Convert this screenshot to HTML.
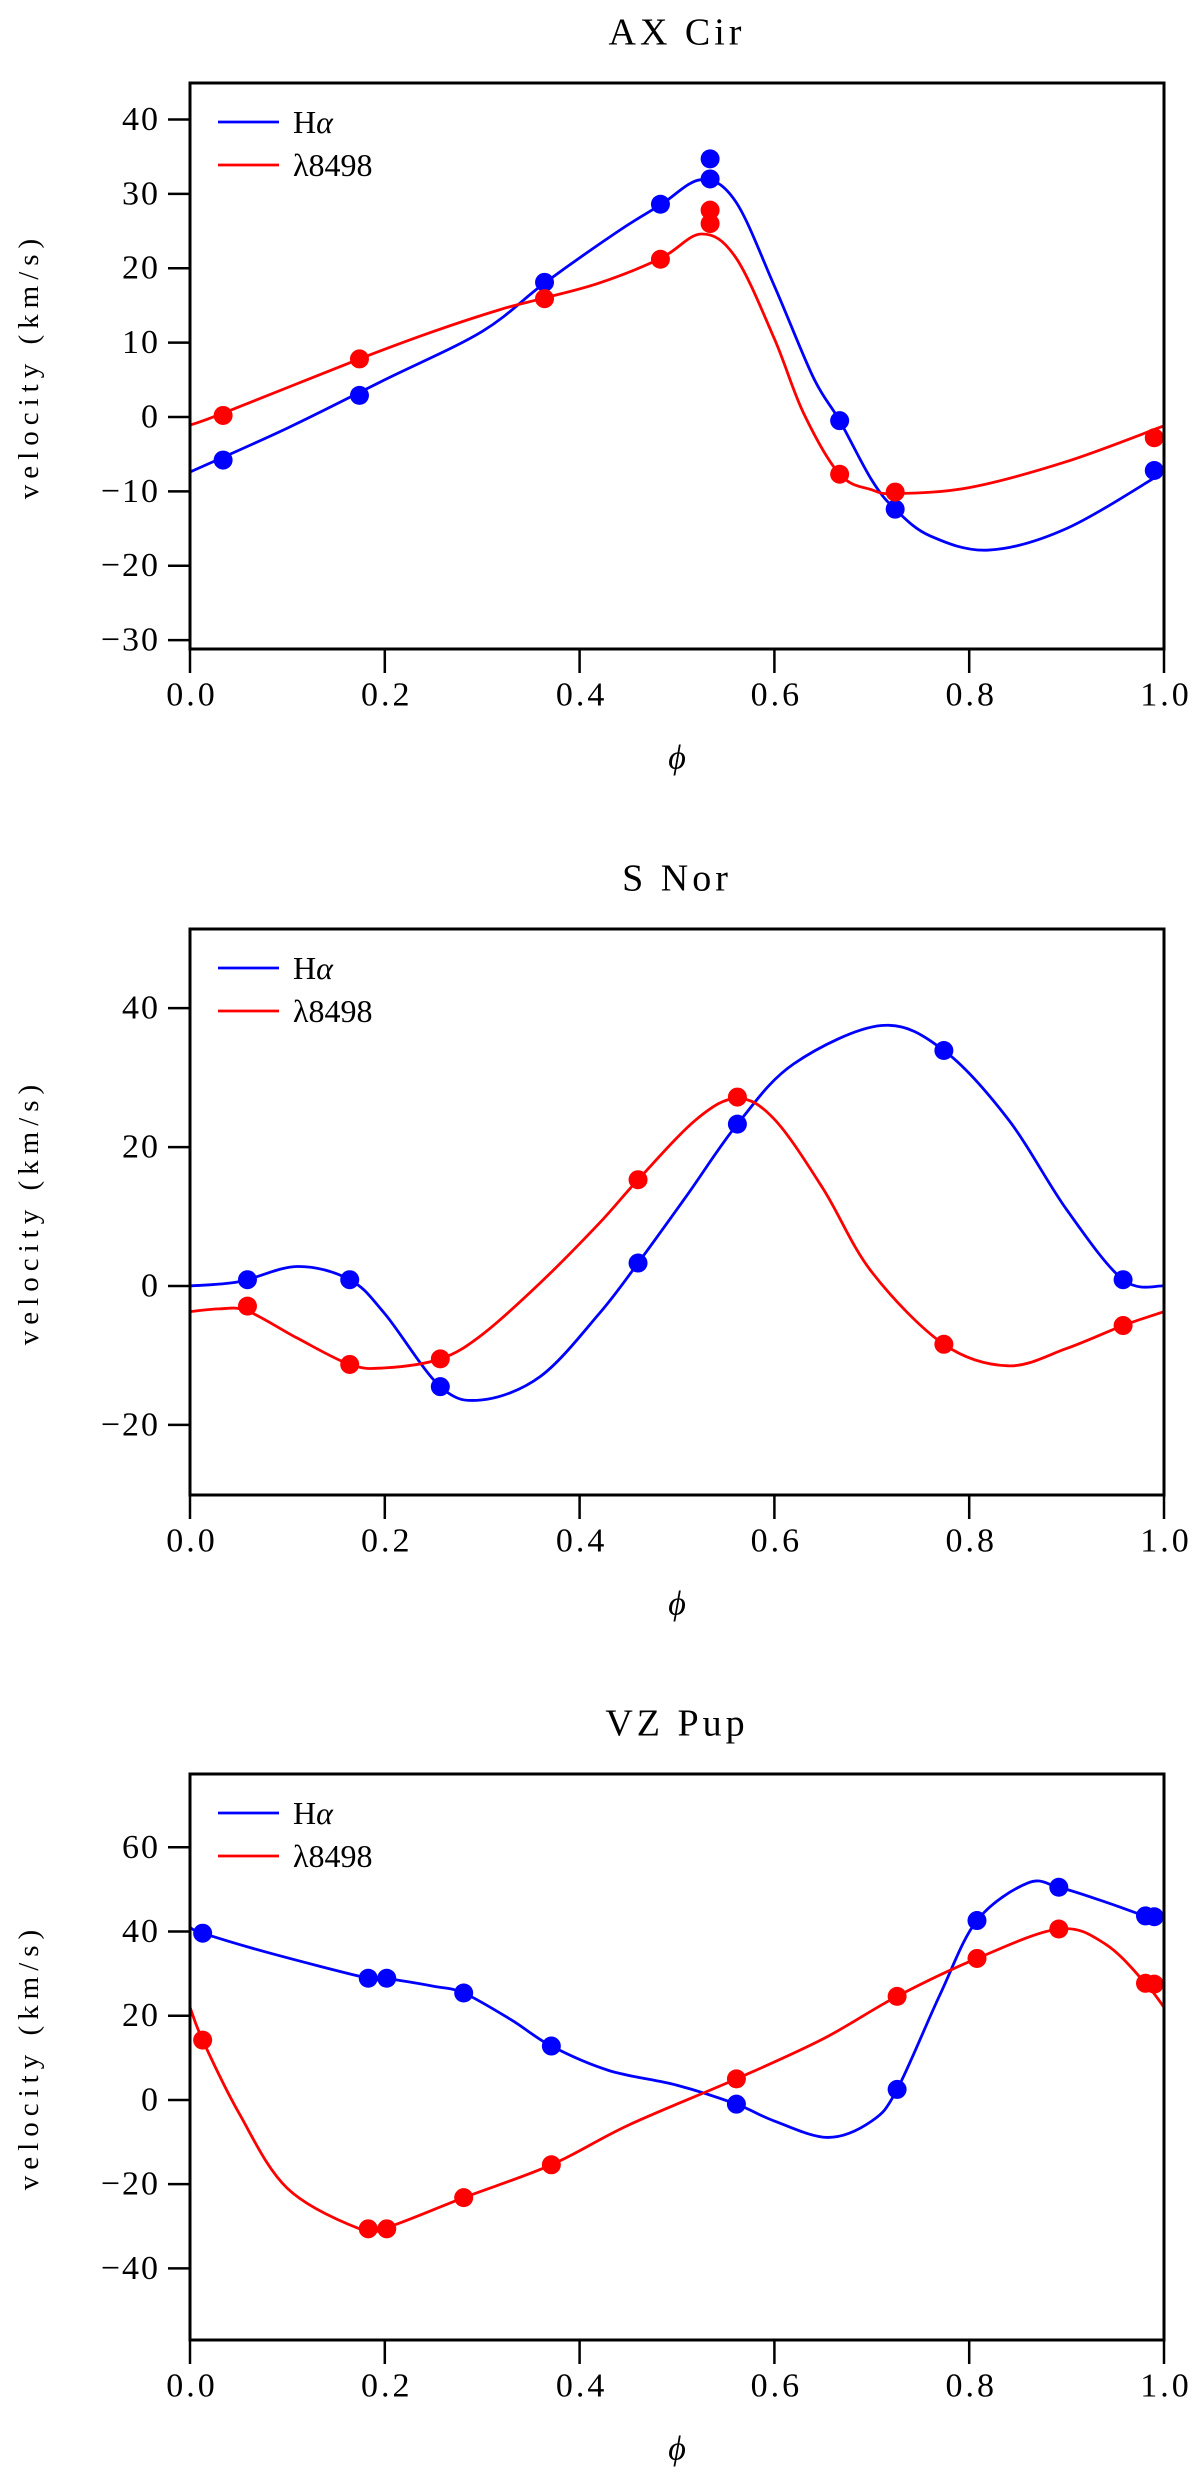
<!DOCTYPE html>
<html><head><meta charset="utf-8"><style>
html,body{margin:0;padding:0;background:#fff;}
svg{display:block;}
text{font-family:"Liberation Serif",serif;fill:#000;}
</style></head><body>
<svg id="fig" width="1200" height="2475" viewBox="0 0 1200 2475" xmlns="http://www.w3.org/2000/svg"></svg>
<script>
// ---- AX Cir ----
const axPhiHa = [0.034,0.174,0.364,0.483,0.534,0.534,0.667,0.724,0.990];
const axVelHa = [-5.8,2.9,18.1,28.6,34.7,32.0,-0.5,-12.4,-7.2];
const axPhiCa = [0.034,0.174,0.364,0.483,0.534,0.534,0.667,0.724,0.990];
const axVelCa = [0.2,7.8,15.9,21.2,27.8,26.0,-7.7,-10.1,-2.8];
const axFitPhiHa = [0,0.1,0.2,0.3,0.364,0.44,0.483,0.525,0.56,0.6,0.64,0.667,0.7,0.724,0.76,0.82,0.9,1.0];
const axFitVelHa = [-7.4,-1.5,5.0,11.5,18.0,25,28.5,31.9,29,17.6,5.3,-0.5,-8.5,-12.4,-16,-17.9,-15,-7.4];
const axFitPhiCa = [0,0.034,0.174,0.25,0.32,0.364,0.42,0.483,0.525,0.56,0.6,0.63,0.667,0.7,0.724,0.8,0.9,1.0];
const axFitVelCa = [-1.1,0.5,7.8,11.5,14.5,16,18,21.3,24.6,21.5,10.5,0.5,-7.7,-9.8,-10.3,-9.5,-6,-1.2];
const axTicksY = [-30,-20,-10,0,10,20,30,40];
// ---- S Nor ----
const snPhiHa = [0.059,0.164,0.257,0.460,0.562,0.774,0.958];
const snVelHa = [0.9,0.9,-14.5,3.3,23.3,33.9,0.9];
const snPhiCa = [0.059,0.164,0.257,0.460,0.562,0.774,0.958];
const snVelCa = [-2.9,-11.3,-10.5,15.3,27.2,-8.4,-5.7];
const snFitPhiHa = [0,0.05,0.11,0.164,0.2,0.257,0.3,0.36,0.42,0.46,0.51,0.562,0.62,0.71,0.774,0.84,0.9,0.958,1.0];
const snFitVelHa = [0,0.6,2.8,0.9,-4,-14.5,-16.4,-13,-4,3.3,13,23.3,32,37.5,33.9,24,11,0.9,0];
const snFitPhiCa = [0,0.03,0.059,0.11,0.164,0.2,0.257,0.3,0.36,0.42,0.46,0.52,0.562,0.6,0.65,0.7,0.774,0.84,0.9,0.958,1.0];
const snFitVelCa = [-3.7,-3.3,-3.6,-7.5,-11.3,-11.8,-10.5,-7,0.5,9,15.3,24,27,24,14,2,-8.4,-11.5,-9,-5.7,-3.7];
const snTicksY = [-20,0,20,40];
// ---- VZ Pup ----
const vzPhiHa = [0.013,0.183,0.202,0.281,0.371,0.561,0.726,0.808,0.892,0.981,0.990];
const vzVelHa = [39.6,28.9,28.9,25.4,12.8,-1.0,2.5,42.6,50.5,43.7,43.5];
const vzPhiCa = [0.013,0.183,0.202,0.281,0.371,0.561,0.726,0.808,0.892,0.981,0.990];
const vzVelCa = [14.2,-30.6,-30.6,-23.2,-15.4,5.0,24.6,33.6,40.6,27.7,27.5];
const vzFitPhiHa = [0,0.013,0.08,0.183,0.202,0.25,0.281,0.33,0.371,0.43,0.5,0.561,0.6,0.655,0.7,0.726,0.77,0.808,0.86,0.892,0.94,0.981,1.0];
const vzFitVelHa = [41,39.6,35,28.9,28.8,27,25.4,19,12.8,7,3.5,-1,-5,-8.9,-5,2.5,25,42.6,51.5,50.5,47,43.7,43.2];
const vzFitPhiCa = [0,0.013,0.05,0.1,0.175,0.202,0.281,0.371,0.45,0.561,0.65,0.726,0.808,0.892,0.94,0.981,1.0];
const vzFitVelCa = [22,14.2,-3,-21,-30.7,-30.3,-23.2,-15.4,-6,5,14.5,24.6,33.6,40.6,37,27.7,22];
const vzTicksY = [-40,-20,0,20,40,60];
const xTicks = [0,0.2,0.4,0.6,0.8,1.0];
const xTickLabels = ["0.0","0.2","0.4","0.6","0.8","1.0"];

const NS="http://www.w3.org/2000/svg";
const svg=document.getElementById('fig');
function mk(tag,attrs,parent){const e=document.createElementNS(NS,tag);for(const k in attrs)e.setAttribute(k,attrs[k]);(parent||svg).appendChild(e);return e;}
function fmt(v){return v<0?'\u2212'+Math.abs(v):String(v);}
function splinePath(xs,ys,fx,fy){
  const P=xs.map((x,i)=>[fx(x),fy(ys[i])]);
  let d='M'+P[0][0].toFixed(2)+','+P[0][1].toFixed(2);
  for(let i=0;i<P.length-1;i++){
    const p0=P[Math.max(0,i-1)],p1=P[i],p2=P[i+1],p3=P[Math.min(P.length-1,i+2)];
    const c1=[p1[0]+(p2[0]-p0[0])/6,p1[1]+(p2[1]-p0[1])/6];
    const c2=[p2[0]-(p3[0]-p1[0])/6,p2[1]-(p3[1]-p1[1])/6];
    d+=' C'+c1[0].toFixed(2)+','+c1[1].toFixed(2)+' '+c2[0].toFixed(2)+','+c2[1].toFixed(2)+' '+p2[0].toFixed(2)+','+p2[1].toFixed(2);
  }
  return d;
}
const L=190,R=1164;
function panel(cfg){
  const g=mk('g',{});
  
  
  const T=cfg.top,B=cfg.top+566;
  const fx=p=>L+p*(R-L);
  const fy=v=>T+(cfg.ymax-v)/(cfg.ymax-cfg.ymin)*(B-T);
  const t=mk('text',{x:677,y:cfg.top-47,'text-anchor':'middle','font-size':38,'letter-spacing':4,'dominant-baseline':'middle'},g);
  t.textContent=cfg.title;
  
  
  const cp='clip-'+cfg.name;
  const cdef=mk('clipPath',{id:cp},g);mk('rect',{x:L,y:T,width:R-L,height:B-T},cdef);
  const series=[[cfg.fpH,cfg.fvH,'#0000ff','halpha'],[cfg.fpC,cfg.fvC,'#ff0000','lambda8498']];
  series.forEach(s=>{
    const p=mk('path',{d:splinePath(s[0],s[1],fx,fy),fill:'none',stroke:s[2],'stroke-width':2.8,'clip-path':'url(#'+cp+')'},g);
    
    
  });
  const pts=[[cfg.pH,cfg.vH,'#0000ff','halpha'],[cfg.pC,cfg.vC,'#ff0000','lambda8498']];
  pts.forEach(s=>{
    s[0].forEach((p,i)=>{
      const c=mk('ellipse',{cx:fx(p),cy:fy(s[1][i]),rx:9.5,ry:9.5,fill:s[2]},g);
      
      
    });
  });
  const fr=mk('rect',{x:L,y:T,width:R-L,height:B-T,fill:'none',stroke:'#000','stroke-width':3},g);
  
  
  cfg.ticksY.forEach(v=>{
    const y=fy(v);
    mk('line',{x1:L-22,x2:L,y1:y,y2:y,stroke:'#000','stroke-width':2.5},g);
    const tx=mk('text',{x:L-30,y:y,'text-anchor':'end','dominant-baseline':'central','font-size':34,'letter-spacing':2},g);
    tx.textContent=fmt(v);
    
    
  });
  xTicks.forEach((p,i)=>{
    const x=fx(p);
    mk('line',{x1:x,x2:x,y1:B,y2:B+24,stroke:'#000','stroke-width':2.5},g);
    const tx=mk('text',{x:x+2,y:B+46,'text-anchor':'middle','dominant-baseline':'central','font-size':34,'letter-spacing':3},g);
    tx.textContent=xTickLabels[i];
    
    
  });
  const xl=mk('text',{x:677,y:B+109,'text-anchor':'middle','dominant-baseline':'central','font-size':34,'font-style':'italic'},g);
  xl.textContent='\u03d5';
  
  
  const yl=mk('text',{x:0,y:0,'text-anchor':'middle','dominant-baseline':'central','font-size':29,'letter-spacing':6,transform:'translate(29,'+((T+B)/2)+') rotate(-90)'},g);
  yl.textContent='velocity (km/s)';
  
  
  const lg=mk('g',{},g);
  
  
  [['#0000ff','H','\u03b1',39],['#ff0000','\u03bb8498','',82]].forEach(e=>{
    mk('line',{x1:218,x2:279,y1:T+e[3],y2:T+e[3],stroke:e[0],'stroke-width':2.8},lg);
    const tx=mk('text',{x:293,y:T+e[3],'dominant-baseline':'central','font-size':32},lg);
    tx.textContent=e[1];
    if(e[2]){const ts=mk('tspan',{'font-style':'italic'},tx);ts.textContent=e[2];}
    
    
  });
}
panel({name:'ax-cir',title:'AX Cir',top:83,ymin:-31.2,ymax:44.9,ticksY:axTicksY,pH:axPhiHa,vH:axVelHa,pC:axPhiCa,vC:axVelCa,fpH:axFitPhiHa,fvH:axFitVelHa,fpC:axFitPhiCa,fvC:axFitVelCa});
panel({name:'s-nor',title:'S Nor',top:929,ymin:-30.1,ymax:51.4,ticksY:snTicksY,pH:snPhiHa,vH:snVelHa,pC:snPhiCa,vC:snVelCa,fpH:snFitPhiHa,fvH:snFitVelHa,fpC:snFitPhiCa,fvC:snFitVelCa});
panel({name:'vz-pup',title:'VZ Pup',top:1774,ymin:-57,ymax:77.4,ticksY:vzTicksY,pH:vzPhiHa,vH:vzVelHa,pC:vzPhiCa,vC:vzVelCa,fpH:vzFitPhiHa,fvH:vzFitVelHa,fpC:vzFitPhiCa,fvC:vzFitVelCa});
</script>
</body></html>
